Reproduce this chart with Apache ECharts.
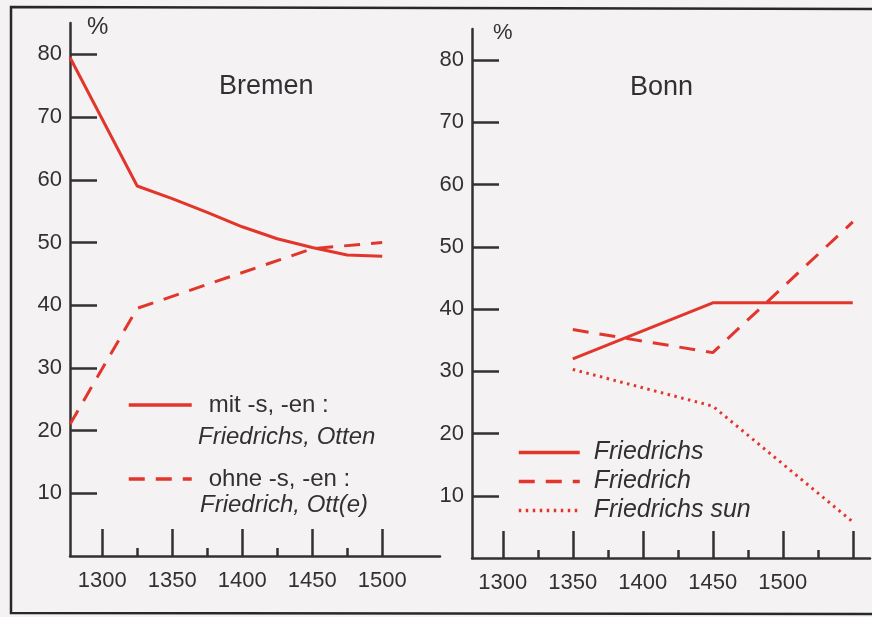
<!DOCTYPE html>
<html><head><meta charset="utf-8">
<script src="https://cdn.jsdelivr.net/npm/echarts@6/dist/echarts.min.js"></script>
<style>html,body{margin:0;padding:0;background:#f4f2f3;}#c{width:872px;height:617px;}</style>
</head><body><div id="c"></div>
<script>
// ---- data ----
const yTicks = [10, 20, 30, 40, 50, 60, 70, 80];
const bremenMajorTicks = [1300, 1350, 1400, 1450, 1500];
const bremenMinorTicks = [1325, 1375, 1425, 1475];
const bonnMajorTicks = [1300, 1350, 1400, 1450, 1500, 1550];
const bonnMinorTicks = [1325, 1375, 1425, 1475, 1525];
const bonnLabelTicks = [1300, 1350, 1400, 1450, 1500];

const bremenMitYears = [1277, 1325, 1350, 1375, 1400, 1425, 1450, 1475, 1500];
const bremenMitValues = [79.5, 59, 57, 54.8, 52.5, 50.6, 49.2, 48, 47.8];
const bremenOhneYears = [1277, 1325, 1450, 1500];
const bremenOhneValues = [21, 39.5, 49, 50];

const bonnYears = [1350, 1450, 1550];
const bonnFriedrichs = [32, 41, 41];
const bonnFriedrich = [36.7, 33, 54];
const bonnFriedrichsSun = [30.3, 24.4, 5.8];

const pairs = (xs, ys) => xs.map((x, i) => [x, ys[i]]);

const RED = '#e2352b';
const INK = '#333033';
const FONT = '"Liberation Sans", Arial, sans-serif';

function yAxis(gridIndex) {
  return {
    type: 'value', gridIndex, min: 0, max: 85,
    axisLine: { show: true, lineStyle: { color: INK, width: 2.5 } },
    axisTick: { show: true, inside: true, length: 27, customValues: yTicks, lineStyle: { color: INK, width: 2.5 } },
    axisLabel: { customValues: yTicks, color: INK, fontSize: 22, fontFamily: FONT, margin: 8, formatter: v => String(v) },
    splitLine: { show: false }
  };
}
function xAxis(gridIndex, min, max, ticks, labels, len, showLine) {
  return {
    type: 'value', gridIndex, min, max, position: 'bottom',
    axisLine: { show: showLine, onZero: false, lineStyle: { color: INK, width: 2.5 } },
    axisTick: { show: true, inside: true, length: len, customValues: ticks, lineStyle: { color: INK, width: 2.5 } },
    axisLabel: labels ? { customValues: labels, color: INK, fontSize: 22, fontFamily: FONT, margin: 14, formatter: v => String(v) } : { show: false },
    splitLine: { show: false }
  };
}

const chart = echarts.init(document.getElementById('c'));
chart.setOption({
  backgroundColor: '#f4f2f3',
  animation: false,
  grid: [
    { left: 70, top: 23, width: 370, height: 533 },
    { left: 472, top: 29, width: 398, height: 529 }
  ],
  xAxis: [
    xAxis(0, 1277, 1541.3, bremenMajorTicks, bremenMajorTicks, 27, true),
    xAxis(0, 1277, 1541.3, bremenMinorTicks, null, 8, false),
    xAxis(1, 1278, 1562.3, bonnMajorTicks, bonnLabelTicks, 27, true),
    xAxis(1, 1278, 1562.3, bonnMinorTicks, null, 8, false)
  ],
  yAxis: [yAxis(0), yAxis(1)],
  legend: [
    {
      data: ['mit -s, -en :', 'ohne -s, -en :'],
      orient: 'vertical', left: 122, top: 388, itemWidth: 63, itemHeight: 14, itemGap: 50,
      itemStyle: { opacity: 0 },
      lineStyle: { width: 3.5 },
      textStyle: { color: INK, fontSize: 24, fontFamily: FONT, lineHeight: 24, padding: [0, 0, 0, 12] }
    },
    {
      data: ['Friedrichs', 'Friedrich', 'Friedrichs sun'],
      orient: 'vertical', left: 512, top: 435, itemWidth: 61, itemHeight: 14, itemGap: 4,
      itemStyle: { opacity: 0 },
      lineStyle: { width: 3.5 },
      textStyle: { color: INK, fontSize: 25, fontFamily: FONT, fontStyle: 'italic', lineHeight: 25, padding: [0, 0, 0, 9] }
    }
  ],
  graphic: [
    { type: 'polyline', shape: { points: [[872, 9], [11, 7], [11, 613], [872, 614]] }, style: { stroke: '#2a272a', lineWidth: 2.5, fill: null } },
    { type: 'text', left: 87, top: 15, style: { text: '%', fill: INK, fontSize: 24, fontFamily: FONT } },
    { type: 'text', left: 493, top: 22, style: { text: '%', fill: INK, fontSize: 22, fontFamily: FONT } },
    { type: 'text', left: 219, top: 73, style: { text: 'Bremen', fill: INK, fontSize: 27, fontFamily: FONT } },
    { type: 'text', left: 630, top: 74, style: { text: 'Bonn', fill: INK, fontSize: 27, fontFamily: FONT } },
    { type: 'text', left: 198, top: 425, style: { text: 'Friedrichs, Otten', fill: INK, fontSize: 24, fontStyle: 'italic', fontFamily: FONT } },
    { type: 'text', left: 200, top: 493, style: { text: 'Friedrich, Ott(e)', fill: INK, fontSize: 24, fontStyle: 'italic', fontFamily: FONT } }
  ],
  series: [
    { name: 'mit -s, -en :', type: 'line', xAxisIndex: 0, yAxisIndex: 0, data: pairs(bremenMitYears, bremenMitValues), symbol: 'none', lineStyle: { color: RED, width: 3 }, itemStyle: { color: RED } },
    { name: 'ohne -s, -en :', type: 'line', xAxisIndex: 0, yAxisIndex: 0, data: pairs(bremenOhneYears, bremenOhneValues), symbol: 'none', lineStyle: { color: RED, width: 3, type: [16, 11] }, itemStyle: { color: RED } },
    { name: 'Friedrichs', type: 'line', xAxisIndex: 2, yAxisIndex: 1, data: pairs(bonnYears, bonnFriedrichs), symbol: 'none', lineStyle: { color: RED, width: 3 }, itemStyle: { color: RED } },
    { name: 'Friedrich', type: 'line', xAxisIndex: 2, yAxisIndex: 1, data: pairs(bonnYears, bonnFriedrich), symbol: 'none', lineStyle: { color: RED, width: 3, type: [16, 11] }, itemStyle: { color: RED } },
    { name: 'Friedrichs sun', type: 'line', xAxisIndex: 2, yAxisIndex: 1, data: pairs(bonnYears, bonnFriedrichsSun), symbol: 'none', lineStyle: { color: RED, width: 3, type: [2.5, 4.5] }, itemStyle: { color: RED } }
  ]
});
</script></body></html>
